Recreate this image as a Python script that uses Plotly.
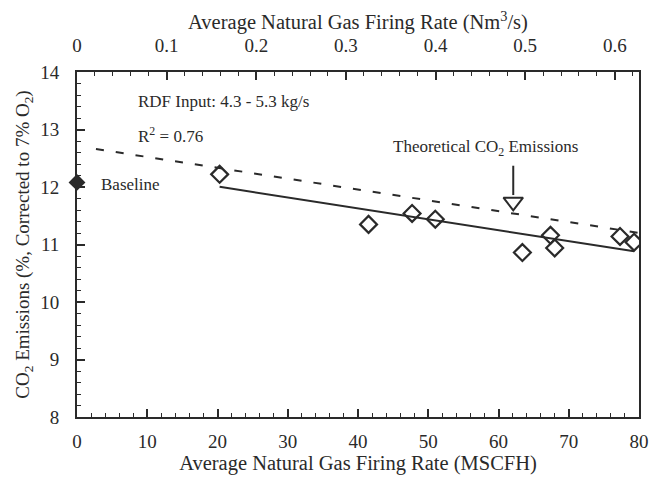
import numpy as np
import plotly.graph_objects as go

# Data
gas_rate_mscfh = [20.3, 41.5, 47.7, 51.0, 63.4, 67.4, 68.0, 77.3, 79.3]
co2_pct = [12.22, 11.35, 11.54, 11.44, 10.86, 11.16, 10.94, 11.14, 11.04]
baseline_x = [0]
baseline_y = [12.08]
theory_x = [2.7, 80.1]
theory_y = [12.66, 11.2]
arrow_x = [62.1, 62.1]
arrow_y = [12.37, 11.86]
top_axis_max = 0.627  # Nm3/s corresponding to 80 MSCFH

slope, intercept = np.polyfit(gas_rate_mscfh, co2_pct, 1)
fit_x = [min(gas_rate_mscfh), max(gas_rate_mscfh)]
fit_y = [slope * v + intercept for v in fit_x]

FONT = "Liberation Serif"
INK = "#2a2a2a"

fig = go.Figure()
fig.add_trace(go.Scatter(x=theory_x, y=theory_y, mode="lines",
                         line=dict(color=INK, width=2, dash="8px,12px"),
                         showlegend=False, hoverinfo="skip"))
fig.add_trace(go.Scatter(x=fit_x, y=fit_y, mode="lines",
                         line=dict(color=INK, width=2),
                         showlegend=False, hoverinfo="skip"))
fig.add_trace(go.Scatter(x=gas_rate_mscfh, y=co2_pct, mode="markers",
                         marker=dict(symbol="diamond-open", size=13, color=INK,
                                     line=dict(width=2.2, color=INK)),
                         showlegend=False))
fig.add_trace(go.Scatter(x=baseline_x, y=baseline_y, mode="markers",
                         marker=dict(symbol="diamond", size=13, color=INK),
                         cliponaxis=False, showlegend=False))
# arrow shaft and open head
fig.add_trace(go.Scatter(x=arrow_x, y=arrow_y, mode="lines",
                         line=dict(color=INK, width=2),
                         showlegend=False, hoverinfo="skip"))
fig.add_trace(go.Scatter(x=[arrow_x[1]], y=[arrow_y[1] - 0.12], mode="markers",
                         marker=dict(symbol="triangle-down-open", size=17, color=INK,
                                     line=dict(width=2, color=INK)),
                         showlegend=False, hoverinfo="skip"))
# invisible trace to activate the top axis
fig.add_trace(go.Scatter(x=[0, top_axis_max], y=[8, 8], xaxis="x2", mode="markers",
                         marker=dict(opacity=0), showlegend=False, hoverinfo="skip"))

ann_font = dict(family=FONT, size=17, color=INK)
fig.add_annotation(x=8.4, y=13.48, text="RDF Input: 4.3 - 5.3 kg/s", showarrow=False,
                   xanchor="left", yanchor="middle", font=ann_font)
fig.add_annotation(x=8.4, y=12.9, text="R<sup>2</sup> = 0.76", showarrow=False,
                   xanchor="left", yanchor="middle", font=ann_font)
fig.add_annotation(x=3.1, y=12.04, text="Baseline", showarrow=False,
                   xanchor="left", yanchor="middle", font=ann_font)
fig.add_annotation(x=58.2, y=12.68, text="Theoretical CO<sub>2</sub> Emissions", showarrow=False,
                   xanchor="center", yanchor="middle", font=ann_font)

axis_common = dict(showline=True, linecolor=INK, linewidth=2, ticks="inside",
                   tickcolor=INK, tickwidth=1.5, ticklen=8, showgrid=False, zeroline=False,
                   tickfont=dict(family=FONT, size=19, color=INK))

fig.update_layout(
    width=661, height=480,
    margin=dict(l=77, r=12, t=72, b=58),
    plot_bgcolor="white", paper_bgcolor="white",
    xaxis=dict(range=[0, 80], dtick=10, tick0=0,
               minor=dict(dtick=2, ticks="inside", ticklen=4, tickcolor=INK, tickwidth=1.2),
               ticklabelstandoff=6,
               title=dict(text="Average Natural Gas Firing Rate (MSCFH)", standoff=2,
                          font=dict(family=FONT, size=20.5, color=INK)),
               **axis_common),
    xaxis2=dict(range=[0, top_axis_max], dtick=0.1, tick0=0, overlaying="x", side="top",
                minor=dict(dtick=0.02, ticks="inside", ticklen=4, tickcolor=INK, tickwidth=1.2),
                ticklabelstandoff=10,
                title=dict(text="Average Natural Gas Firing Rate (Nm<sup>3</sup>/s)", standoff=0,
                           font=dict(family=FONT, size=20.5, color=INK)),
                **axis_common),
    yaxis=dict(range=[8, 14], dtick=1, tick0=8, mirror=True,
               minor=dict(dtick=0.2, ticks="inside", ticklen=4, tickcolor=INK, tickwidth=1.2),
               ticklabelstandoff=12,
               title=dict(text="CO<sub>2</sub> Emissions (%, Corrected to 7% O<sub>2</sub>)",
                          standoff=6, font=dict(family=FONT, size=19, color=INK)),
               **axis_common),
)

fig.write_html("out.html")
